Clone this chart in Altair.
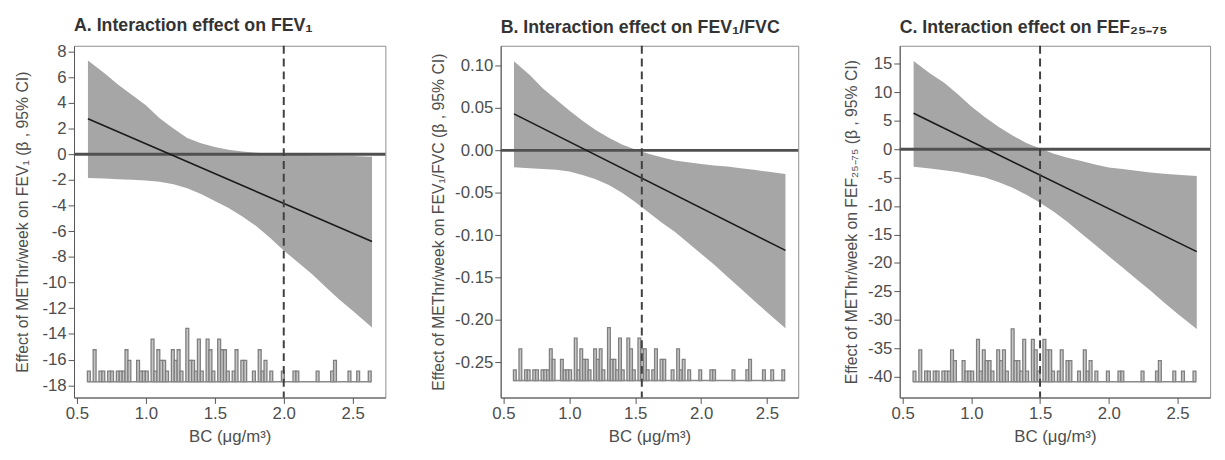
import altair as alt
import pandas as pd

FONT = "Liberation Sans"

# ---- data ----
bc_grid = [0.58, 0.7, 0.8, 0.9, 1.0, 1.1, 1.2, 1.3, 1.4, 1.5, 1.6, 1.7, 1.8, 1.9, 2.0, 2.1, 2.2, 2.3, 2.4, 2.5, 2.64]

a_upper = [7.3, 6.3, 5.4, 4.6, 3.8, 2.8, 2.0, 1.25, 0.85, 0.55, 0.35, 0.2, 0.1, 0.05, 0.0, -0.05, -0.08, -0.1, -0.12, -0.15, -0.2]
a_lower = [-1.85, -1.9, -1.95, -2.0, -2.05, -2.15, -2.35, -2.65, -3.1, -3.65, -4.2, -4.85, -5.6, -6.5, -7.5, -8.4, -9.3, -10.3, -11.3, -12.2, -13.5]

b_upper = [0.105, 0.089, 0.073, 0.060, 0.047, 0.035, 0.024, 0.015, 0.007, 0.001, -0.004, -0.008, -0.012, -0.014, -0.016, -0.018, -0.019, -0.021, -0.023, -0.025, -0.028]
b_lower = [-0.020, -0.021, -0.022, -0.023, -0.025, -0.029, -0.034, -0.041, -0.050, -0.061, -0.073, -0.085, -0.096, -0.109, -0.122, -0.135, -0.149, -0.163, -0.177, -0.191, -0.210]

c_upper = [15.5, 13.3, 11.7, 9.7, 7.5, 5.6, 3.9, 2.4, 1.1, 0.1, -0.8, -1.5, -2.1, -2.7, -3.2, -3.5, -3.8, -4.1, -4.3, -4.5, -4.7]
c_lower = [-3.1, -3.4, -3.7, -4.0, -4.5, -5.0, -5.8, -6.8, -8.0, -9.4, -11.0, -12.8, -14.8, -16.8, -18.8, -20.8, -22.8, -24.8, -26.9, -28.9, -31.6]

fit_bc = [0.58, 2.64]
a_fit = [2.75, -6.8]
b_fit = [0.043, -0.118]
c_fit = [6.3, -18.0]

hist_bc = [0.576, 0.618, 0.660, 0.681, 0.723, 0.744, 0.786, 0.807, 0.828, 0.849, 0.870, 0.933, 0.954, 0.975,
           0.996, 1.038, 1.059, 1.080, 1.101, 1.122, 1.143, 1.185, 1.206, 1.227, 1.248, 1.290, 1.311, 1.332,
           1.353, 1.374, 1.395, 1.437, 1.458, 1.479, 1.521, 1.542, 1.563, 1.584, 1.626, 1.647, 1.689, 1.710,
           1.773, 1.815, 1.836, 1.857, 1.899, 1.983, 2.067, 2.088, 2.235, 2.340, 2.361, 2.466, 2.529, 2.613]
hist_n = [1, 3, 1, 1, 1, 1, 1, 1, 1, 3, 2, 2, 1, 1, 1, 4, 1, 3, 2, 2, 1, 3, 2, 3, 1, 5, 2, 2, 1, 4, 1, 4, 3, 1,
          4, 3, 3, 1, 1, 3, 2, 2, 1, 3, 1, 2, 1, 1, 1, 1, 1, 1, 2, 1, 1, 1]

x_ticks = [0.5, 1.0, 1.5, 2.0, 2.5]
a_ticks = [8, 6, 4, 2, 0, -2, -4, -6, -8, -10, -12, -14, -16, -18]
b_ticks = [0.10, 0.05, 0.00, -0.05, -0.10, -0.15, -0.20, -0.25]
c_ticks = [15, 10, 5, 0, -5, -10, -15, -20, -25, -30, -35, -40]

BIN_W = 0.021
X_DOMAIN = [0.479, 2.737]
H = 357

LABEL_EXPR = "replace(datum.label, '\u2212', '-')"


def panel(title, ytitle, upper, lower, fit, vline, ydomain, yticks, yfmt, hbase, hstep, width, ytpad):
    band_df = pd.DataFrame({"bc": bc_grid, "lo": lower, "hi": upper})
    fit_df = pd.DataFrame({"bc": fit_bc, "fit": fit})
    hist_df = pd.DataFrame({"bc": hist_bc, "n": hist_n})
    hist_df["bc2"] = hist_df["bc"] + BIN_W
    hist_df["base"] = hbase
    hist_df["top"] = hbase + hist_df["n"] * hstep
    base_df = pd.DataFrame({"x1": [hist_bc[0]], "x2": [hist_bc[-1] + BIN_W], "y": [hbase]})

    xs = alt.Scale(domain=X_DOMAIN, nice=False, zero=False)
    ys = alt.Scale(domain=ydomain, nice=False, zero=False)
    xax = alt.Axis(values=x_ticks, format=".1f", title="BC (\u03bcg/m\u00b3)", grid=False,
                   labelOverlap=False, titleFontSize=17, tickCount=len(x_ticks) + 2)
    yax = alt.Axis(values=yticks, format=yfmt, labelExpr=LABEL_EXPR, title=ytitle, grid=False,
                   labelOverlap=False, tickCount=len(yticks) + 2, titlePadding=ytpad)

    band = alt.Chart(band_df).mark_area(color="#a6a6a6", opacity=1).encode(
        x=alt.X("bc:Q", scale=xs, axis=xax),
        y=alt.Y("lo:Q", scale=ys, axis=yax),
        y2="hi:Q",
    )
    zero = alt.Chart(pd.DataFrame({"z": [0]})).mark_rule(color="#505050", strokeWidth=3).encode(
        y=alt.Y("z:Q", scale=ys)
    )
    line = alt.Chart(fit_df).mark_line(color="#1a1a1a", strokeWidth=1.6).encode(
        x=alt.X("bc:Q", scale=xs), y=alt.Y("fit:Q", scale=ys)
    )
    hist = alt.Chart(hist_df).mark_rect(fill="#c6c6c6", stroke="#7f7f7f", strokeWidth=1.3).encode(
        x=alt.X("bc:Q", scale=xs), x2="bc2:Q",
        y=alt.Y("base:Q", scale=ys), y2="top:Q",
    )
    baseline = alt.Chart(base_df).mark_rule(color="#8a8a8a", strokeWidth=1.6).encode(
        x=alt.X("x1:Q", scale=xs), x2="x2:Q", y=alt.Y("y:Q", scale=ys)
    )
    vl = alt.Chart(pd.DataFrame({"v": [vline]})).mark_rule(
        color="#404040", strokeWidth=2, strokeDash=[8, 5]
    ).encode(x=alt.X("v:Q", scale=xs))

    return alt.layer(band, zero, line, hist, baseline, vl).properties(
        width=width, height=H,
        title=alt.TitleParams(title, anchor="start", frame="group", fontSize=18, fontWeight="bold",
                              font=FONT, color="#333333", offset=8),
    )


pa = panel("A. Interaction effect on FEV\u2081",
           "Effect of METhr/week on FEV\u2081 (\u03b2 , 95% CI)",
           a_upper, a_lower, a_fit, 2.0, [-18.95, 8.44], a_ticks, "d", -17.72, 0.83, 316, 12)
pb = panel("B. Interaction effect on FEV\u2081/FVC",
           "Effect of METhr/week on FEV\u2081/FVC (\u03b2 , 95% CI)",
           b_upper, b_lower, b_fit, 1.55, [-0.2916, 0.1234], b_ticks, ".2f", -0.2716, 0.0125, 302, 8)
pc = panel("C. Interaction effect on FEF\u2082\u2085\u208b\u2087\u2085",
           "Effect of METhr/week on FEF\u2082\u2085\u208b\u2087\u2085 (\u03b2 , 95% CI)",
           c_upper, c_lower, c_fit, 1.5, [-43.64, 18.17], c_ticks, "d", -40.86, 1.86, 315, 8)

chart = alt.hconcat(pa, pb, pc, spacing=43).configure_view(
    stroke="#8c8c8c", strokeWidth=1
).configure_axis(
    labelFont=FONT, titleFont=FONT, labelFontSize=17, titleFontSize=16,
    labelColor="#4d4d4d", titleColor="#4d4d4d", titleFontWeight="normal",
    domainColor="#555555", tickColor="#555555", tickSize=6, labelPadding=2,
).configure_axisX(titlePadding=8)

chart.save("out.html", embed_options={"renderer": "svg", "actions": False})
